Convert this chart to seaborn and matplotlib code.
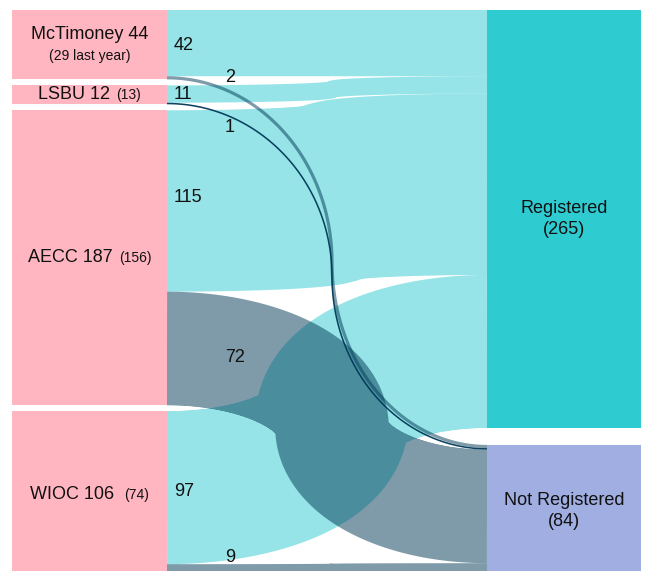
import matplotlib
matplotlib.use("Agg")
import numpy as np
import matplotlib.pyplot as plt
import seaborn as sns
from matplotlib.path import Path
from matplotlib.patches import PathPatch, Rectangle
from matplotlib.offsetbox import TextArea, HPacker, AnnotationBbox

# data
schools = ["McTimoney", "LSBU", "AECC", "WIOC"]
school_totals = [44, 12, 187, 106]
last_year = [29, 13, 156, 74]
outcomes = ["Registered", "Not Registered"]
registered = [42, 11, 115, 97]
not_registered = [2, 1, 72, 9]

sns.set_theme(style="white")
plt.rcParams['font.family'] = ['Liberation Sans', 'DejaVu Sans']

DPI = 100
W, H = 649, 571
fig = plt.figure(figsize=(W / DPI, H / DPI), dpi=DPI)
ax = fig.add_axes([0, 0, 1, 1])
ax.set_xlim(0, W)
ax.set_ylim(H, 0)
ax.axis('off')

# layout (pixels)
PX = 1.577          # pixels per person
TOP = 10
LX0, LX1 = 12, 167
RX0, RX1 = 487, 641
LGAP, RGAP = 6, 17
XMID = 332          # where links turn vertical

pink = "#FFB6C1"
out_cols = ["#2ECBD1", "#A0AEE2"]
flow_cols = ["#2ECBD1", "#003957"]
txt = "#111111"

# node spans
left_spans = []
y = TOP
for v in school_totals:
    left_spans.append((y, y + v * PX))
    y += v * PX + LGAP
out_totals = [sum(registered), sum(not_registered)]
right_spans = []
y = TOP
for v in out_totals:
    right_spans.append((y, y + v * PX))
    y += v * PX + RGAP


def centre_line(y0, y1, n=300):
    # two quarter ellipses meeting at XMID
    t = np.linspace(0, np.pi / 2, n)
    ym = (y0 + y1) / 2
    xa = LX1 + (XMID - LX1) * np.sin(t)
    ya = ym - (ym - y0) * np.cos(t)
    xb = RX0 - (RX0 - XMID) * np.cos(t)
    yb = ym + (y1 - ym) * np.sin(t)
    return np.column_stack([np.r_[xa, xb[1:]], np.r_[ya, yb[1:]]])


def band(pts, w):
    # swept band: one rectangle per segment plus bevel wedges, all same winding
    h = w / 2
    d = np.diff(pts, axis=0)
    L = np.hypot(d[:, 0], d[:, 1])
    ok = L > 1e-9
    p0, p1, d, L = pts[:-1][ok], pts[1:][ok], d[ok], L[ok]
    nrm = np.column_stack([-d[:, 1], d[:, 0]]) / L[:, None] * h
    polys = []
    for a, b, nv in zip(p0, p1, nrm):
        polys.append([a + nv, b + nv, b - nv, a - nv])
    for k in range(1, len(p0)):
        p = p0[k]
        for s in (1, -1):
            polys.append([p, p + s * nrm[k - 1], p + s * nrm[k]])
    verts, codes = [], []
    for poly in polys:
        poly = np.asarray(poly)
        x, yy = poly[:, 0], poly[:, 1]
        area = 0.5 * np.sum(x * np.roll(yy, -1) - np.roll(x, -1) * yy)
        if abs(area) < 1e-9:
            continue
        if area < 0:
            poly = poly[::-1]
        verts.extend(list(poly) + [poly[0]])
        codes.extend([Path.MOVETO] + [Path.LINETO] * (len(poly) - 1) + [Path.CLOSEPOLY])
    return Path(np.array(verts), codes)


series = [registered, not_registered]
dst_off = [r[0] for r in right_spans]
src_mid = {}
for j, vals in enumerate(series):
    for i, v in enumerate(vals):
        w = v * PX
        s0 = left_spans[i][0] + (0 if j == 0 else registered[i] * PX)
        d0 = dst_off[j]
        dst_off[j] += w
        src_mid[(i, j)] = s0 + w / 2
        alpha = 0.5 if w > 2 else 0.95
        ax.add_patch(PathPatch(band(centre_line(s0 + w / 2, d0 + w / 2), w),
                               facecolor=flow_cols[j], edgecolor='none',
                               alpha=alpha, zorder=2))

# nodes
for (a, b) in left_spans:
    ax.add_patch(Rectangle((LX0, a), LX1 - LX0, b - a, color=pink, lw=0, zorder=3))
for (a, b), c in zip(right_spans, out_cols):
    ax.add_patch(Rectangle((RX0, a), RX1 - RX0, b - a, color=c, lw=0, zorder=3))

# node labels
cx = (LX0 + LX1) / 2
for i, name in enumerate(schools):
    cy = sum(left_spans[i]) / 2
    if i == 0:
        ax.text(cx, cy - 10, f"{name} {school_totals[i]}", ha='center', va='center',
                fontsize=13, color=txt, zorder=4)
        ax.text(cx, cy + 11, f"({last_year[i]} last year)", ha='center', va='center',
                fontsize=10, color=txt, zorder=4)
    else:
        big = TextArea(f"{name} {school_totals[i]}", textprops=dict(fontsize=13, color=txt))
        small = TextArea(f"({last_year[i]})", textprops=dict(fontsize=10, color=txt))
        box = HPacker(children=[big, small], align='baseline', pad=0,
                      sep=7 if name == "WIOC" else 4.5)
        ab = AnnotationBbox(box, (cx, cy), frameon=False, box_alignment=(0.5, 0.5),
                            zorder=4)
        ax.add_artist(ab)

rcx = (RX0 + RX1) / 2
for k, name in enumerate(outcomes):
    cy = sum(right_spans[k]) / 2
    ax.text(rcx, cy, f"{name}\n({out_totals[k]})", ha='center', va='center',
            fontsize=13, color=txt, linespacing=1.3, zorder=4)

# flow value labels
reg_dy = [2, 0, -3, 4]
not_dy = [0, 24, 9, -14]
for i in range(len(schools)):
    ax.text(174, src_mid[(i, 0)] + reg_dy[i], str(registered[i]), ha='left',
            va='center', fontsize=13, color=txt, zorder=4)
    ax.text(225, src_mid[(i, 1)] + not_dy[i], str(not_registered[i]), ha='left',
            va='center', fontsize=13, color=txt, zorder=4)

fig.savefig("out.png", dpi=DPI, facecolor="white")
